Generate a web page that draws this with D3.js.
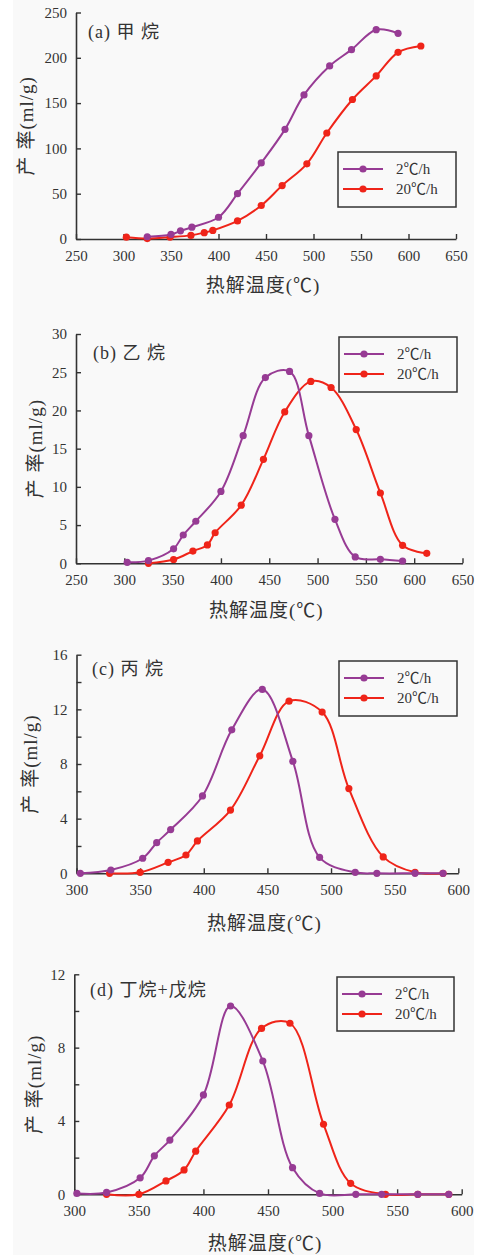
<!DOCTYPE html>
<html>
<head>
<meta charset="utf-8">
<script src="https://cdn.jsdelivr.net/npm/d3@7"></script>
<style>
  body { margin: 0; background: #fff; }
  svg { display: block; }
</style>
</head>
<body>
<svg class="canvas"></svg>
<script>
// Page size
const wWidth = 478
const wHeight = 1255

// Series names and colours
const seriesNames = ['2℃/h', '20℃/h']
const seriesColors = ['#973b94', '#ef2419']

// (a) methane
const aTemp2 = [325, 350, 360, 372, 400, 420, 445, 470, 490, 517, 540, 566, 589]
const aVal2 = [2.5, 5, 9, 13, 24, 50, 84, 121, 159, 191, 209, 231, 227]
const aTemp20 = [303, 325, 349, 371, 385, 394, 420, 445, 467, 493, 514, 541, 566, 589, 613]
const aVal20 = [2, 0.5, 2, 4, 7, 9.5, 20, 37, 59, 83, 117, 154, 180, 206, 213]

// (b) ethane
const bTemp2 = [303, 325, 351, 361, 374, 400, 423, 446, 471, 491, 518, 539, 565, 588]
const bVal2 = [0.13, 0.35, 1.9, 3.7, 5.5, 9.4, 16.7, 24.3, 25.1, 16.7, 5.75, 0.83, 0.52, 0.3]
const bTemp20 = [325, 351, 371, 386, 394, 421, 444, 466, 493, 514, 540, 565, 588, 613]
const bVal20 = [0, 0.5, 1.6, 2.4, 4.0, 7.6, 13.6, 19.8, 23.8, 23.0, 17.5, 9.2, 2.35, 1.3]

// (c) propane
const cTemp2 = [303, 327, 352, 363, 374, 399, 422, 446, 470, 491, 519, 536, 566, 588]
const cVal2 = [0, 0.24, 1.1, 2.24, 3.2, 5.66, 10.5, 13.46, 8.2, 1.17, 0.07, 0, 0, 0]
const cTemp20 = [326, 350, 372, 386, 395, 421, 444, 467, 493, 514, 541, 566, 588]
const cVal20 = [0, 0.07, 0.8, 1.34, 2.37, 4.63, 8.6, 12.6, 11.8, 6.2, 1.2, 0.07, 0]

// (d) butane + pentane
const dTemp2 = [302, 325, 351, 362, 374, 400, 421, 446, 469, 490, 518, 538, 566, 590]
const dVal2 = [0.05, 0.1, 0.9, 2.1, 2.96, 5.42, 10.27, 7.27, 1.45, 0.05, 0, 0, 0, 0]
const dTemp20 = [325, 350, 371, 385, 394, 420, 445, 467, 493, 514, 541, 566, 590]
const dVal20 = [0, 0, 0.73, 1.33, 2.35, 4.87, 9.05, 9.33, 3.82, 0.6, 0, 0, 0]

// Tick values
const xTicksWide = [250, 300, 350, 400, 450, 500, 550, 600, 650]
const xTicksNarrow = [300, 350, 400, 450, 500, 550, 600]
const aYTicks = [0, 50, 100, 150, 200, 250]
const bYTicks = [0, 5, 10, 15, 20, 25, 30]
const cYTicks = [0, 2, 4, 6, 8, 10, 12, 14, 16]
const dYTicks = [0, 2, 4, 6, 8, 10, 12]

// Text
const panelTitles = ['(a) 甲 烷', '(b) 乙 烷', '(c) 丙 烷', '(d) 丁烷+戊烷']
const xTitle = '热解温度(℃)'
const yTitle = '产 率(ml/g)'

const zip = (t, v) => t.map((d, i) => ({t: d, v: v[i]}))

// Layout per panel (pixel boxes only)
const panels = [
    {title: panelTitles[0], s2: zip(aTemp2, aVal2), s20: zip(aTemp20, aVal20),
     xDom: [250, 650], yDom: [0, 250], xTicks: xTicksWide, yTicks: aYTicks, labelEvery: 50,
     left: 76, right: 456, top: 12.5, bottom: 239,
     titleX: 88, titleY: 32, legend: {x: 338, y: 152, w: 118, h: 55},
     yLabelX: 26, xLabelY: 285},
    {title: panelTitles[1], s2: zip(bTemp2, bVal2), s20: zip(bTemp20, bVal20),
     xDom: [250, 650], yDom: [0, 30], xTicks: xTicksWide, yTicks: bYTicks, labelEvery: 5,
     left: 76, right: 462.5, top: 334, bottom: 563.3,
     titleX: 93, titleY: 353, legend: {x: 339, y: 337, w: 118, h: 55},
     yLabelX: 35, xLabelY: 610},
    {title: panelTitles[2], s2: zip(cTemp2, cVal2), s20: zip(cTemp20, cVal20),
     xDom: [300, 600], yDom: [0, 16], xTicks: xTicksNarrow, yTicks: cYTicks, labelEvery: 4,
     left: 76.5, right: 458.3, top: 654.7, bottom: 873.3,
     titleX: 92, titleY: 669, legend: {x: 339, y: 661, w: 118, h: 55},
     yLabelX: 30, xLabelY: 923},
    {title: panelTitles[3], s2: zip(dTemp2, dVal2), s20: zip(dTemp20, dVal20),
     xDom: [300, 600], yDom: [0, 12], xTicks: xTicksNarrow, yTicks: dYTicks, labelEvery: 4,
     left: 74.3, right: 461.7, top: 974.3, bottom: 1194.3,
     titleX: 90, titleY: 990, legend: {x: 337, y: 977, w: 117, h: 54},
     yLabelX: 34, xLabelY: 1243}
]

const numFont = '"Liberation Serif", "Noto Sans CJK SC", serif'
const axisColor = '#333'

const svg = d3.select('.canvas')
    .attr('width', wWidth)
    .attr('height', wHeight)

// faint scan background
svg.append('rect')
    .attr('x', 13).attr('y', 0)
    .attr('width', 461).attr('height', wHeight)
    .attr('fill', '#f9f9f9')

const drawPanel = (p) => {
    const g = svg.append('g')

    const xScale = d3.scaleLinear().domain(p.xDom).range([p.left, p.right])
    const yScale = d3.scaleLinear().domain(p.yDom).range([p.bottom, p.top])

    // x axis, ticks pointing inward
    const xAxisGroup = g.append('g')
        .attr('transform', `translate(0, ${p.bottom})`)
        .call(d3.axisBottom(xScale).tickValues(p.xTicks).tickSizeInner(-5).tickSizeOuter(0).tickPadding(11))
    // y axis
    const yAxisGroup = g.append('g')
        .attr('transform', `translate(${p.left}, 0)`)
        .call(d3.axisLeft(yScale).tickValues(p.yTicks).tickSizeInner(-5).tickSizeOuter(0).tickPadding(9)
            .tickFormat(d => d % p.labelEvery === 0 ? d : ''))

    ;[xAxisGroup, yAxisGroup].forEach(ax => {
        ax.select('.domain').attr('stroke', axisColor).attr('stroke-width', 1.6)
        ax.selectAll('.tick line').attr('stroke', axisColor).attr('stroke-width', 1.4)
        ax.selectAll('.tick text')
            .attr('fill', '#333')
            .style('font-family', numFont)
            .style('font-size', '15px')
    })

    // curves
    const line = d3.line()
        .x(d => xScale(d.t))
        .y(d => yScale(d.v))
        .curve(d3.curveCatmullRom.alpha(0.5))

    const series = [{data: p.s20, color: seriesColors[1]}, {data: p.s2, color: seriesColors[0]}]
    series.forEach(s => {
        g.append('path')
            .datum(s.data)
            .attr('d', line)
            .attr('fill', 'none')
            .attr('stroke', s.color)
            .attr('stroke-width', 2)
        g.selectAll(null)
            .data(s.data)
            .enter()
            .append('circle')
            .attr('cx', d => xScale(d.t))
            .attr('cy', d => yScale(d.v))
            .attr('r', 3.6)
            .attr('fill', s.color)
    })

    // panel title
    g.append('text')
        .attr('x', p.titleX)
        .attr('y', p.titleY)
        .attr('dy', '0.35em')
        .attr('fill', '#333')
        .style('font-family', numFont)
        .style('font-size', '18px')
        .style('letter-spacing', '1px')
        .text(p.title)

    // axis titles
    g.append('text')
        .attr('x', (p.left + p.right) / 2 - 3)
        .attr('y', p.xLabelY)
        .attr('dy', '0.35em')
        .attr('text-anchor', 'middle')
        .attr('fill', '#333')
        .style('font-family', numFont)
        .style('font-size', '19px')
        .style('letter-spacing', '1px')
        .text(xTitle)
    g.append('text')
        .attr('transform', `translate(${p.yLabelX}, ${(p.top + p.bottom) / 2}) rotate(-90)`)
        .attr('dy', '0.35em')
        .attr('text-anchor', 'middle')
        .attr('fill', '#333')
        .style('font-family', numFont)
        .style('font-size', '19px')
        .style('letter-spacing', '1px')
        .text(yTitle)

    // legend
    const lg = g.append('g').attr('transform', `translate(${p.legend.x}, ${p.legend.y})`)
    lg.append('rect')
        .attr('width', p.legend.w)
        .attr('height', p.legend.h)
        .attr('fill', 'none')
        .attr('stroke', axisColor)
        .attr('stroke-width', 1.5)
    seriesNames.forEach((name, i) => {
        const yy = 17 + i * 20
        lg.append('line')
            .attr('x1', 5).attr('x2', 45)
            .attr('y1', yy).attr('y2', yy)
            .attr('stroke', seriesColors[i])
            .attr('stroke-width', 2)
        lg.append('circle')
            .attr('cx', 25).attr('cy', yy).attr('r', 3.6)
            .attr('fill', seriesColors[i])
        lg.append('text')
            .attr('x', 58)
            .attr('y', yy)
            .attr('dy', '0.35em')
            .attr('fill', '#333')
            .style('font-family', numFont)
            .style('font-size', '15px')
            .text(name)
    })
}

panels.forEach(drawPanel)
</script>
</body>
</html>
